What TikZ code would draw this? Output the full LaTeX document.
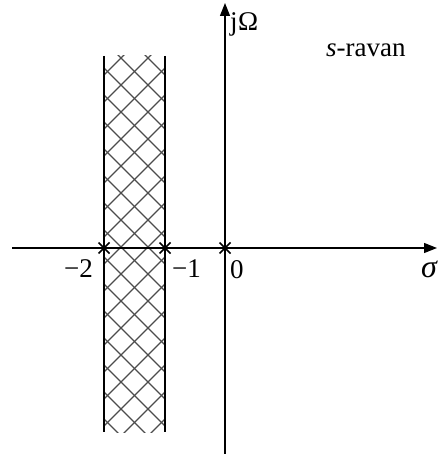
\documentclass[tikz,border=0pt]{standalone}
\usepackage{fontspec}
\setmainfont{Liberation Serif}
\usetikzlibrary{arrows.meta}
\begin{document}
\begin{tikzpicture}[x=1pt,y=-1pt,
  axis/.style={line width=1.3pt,-{Triangle[length=13pt,width=10pt]}},
  pole/.style={line width=1.5pt},
  edge/.style={line width=1.6pt},
  hatch/.style={line width=1.1pt,black!70},
  lbl/.style={font=\fontsize{27}{32}\selectfont,inner sep=0pt}]
\useasboundingbox (0,0) rectangle (438,454);
% band
\begin{scope}
\clip (104,56) rectangle (165,432);
\foreach \c in {-20,-6.5,...,460} {
  \draw[hatch] (104,2*\c) -- ++(80,80);
  \draw[hatch] (165,2*\c) -- ++(-80,80);
}
\end{scope}
\coordinate (bl1) at (104,56); \coordinate (bl2) at (104,432);
\coordinate (br1) at (165,56); \coordinate (br2) at (165,432);
\draw[edge] (bl1) -- (bl2);
\draw[edge] (br1) -- (br2);
% axes
\coordinate (xs) at (12,248); \coordinate (xe) at (437,248);
\coordinate (ys) at (225,454); \coordinate (ye) at (225,3);
\draw[axis] (xs) -- (xe);
\draw[axis] (ys) -- (ye);
% poles
\foreach \n/\x in {p2/104,p1/165,p0/225} {
  \coordinate (\n) at (\x,248);
  \draw[pole] (\n) ++(-5.5,-5.5) -- ++(11,11);
  \draw[pole] (\n) ++(-5.5,5.5) -- ++(11,-11);
}
% labels
\node[lbl,anchor=base west] (jw) at (230,31) {j\kern0.5ptΩ};
\node[lbl,anchor=base west] (sr) at (326,57) {\textit{s}-ravan};
\node[lbl,anchor=base east] (l2) at (93,277) {−2};
\node[lbl,anchor=base west] (l1) at (172,277) {−1};
\node[lbl,anchor=base west] (l0) at (230,278) {0};
\node[lbl,anchor=base east,font=\fontsize{32}{36}\selectfont] (sg) at (438,277) {\textit{σ}};
\end{tikzpicture}
\end{document}
